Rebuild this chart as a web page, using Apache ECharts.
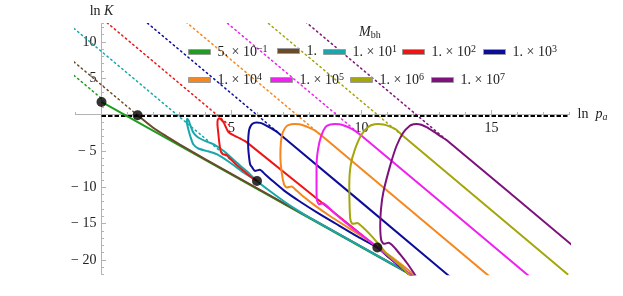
<!DOCTYPE html>
<html><head><meta charset="utf-8">
<script src="https://cdn.jsdelivr.net/npm/echarts@6/dist/echarts.min.js"></script>
<style>html,body{margin:0;padding:0;background:#fff}#c{width:623px;height:296px}</style>
</head><body><div id="c"></div>
<script>
// ---- data ----
const massMant = ['5. × 10', '1.', '1. × 10', '1. × 10', '1. × 10', '1. × 10', '1. × 10', '1. × 10', '1. × 10'];
const massExp  = ['−1', '', '1', '2', '3', '4', '5', '6', '7'];
const colors = ['#1f9d1f', '#6b4a2b', '#1aa7ab', '#f01515', '#0d0d9c', '#f6871f', '#f020f0', '#a5a50c', '#7d127d'];

const xTickLabels = [5, 10, 15];
const yTickLabels = [10, 5, -5, -10, -15, -20];

// dotted asymptotes (ln K = b - 3 ln p)
const dotGreen   = [[-1.2, 5.8], [0, 2.2]];
const dotBrown   = [[-1.2, 7.66], [1.39, -0.1]];
const dotCyan    = [[-1.2, 12.27], [5.0, -6.33]];
const dotRed     = [[-1.2, 16.87], [4.9, -1.43]];
const dotBlue    = [[-1.2, 21.48], [6.8, -2.52]];
const dotOrange  = [[0, 22.48], [8.4, -2.72]];
const dotMagenta = [[4, 15.09], [10, -2.91]];
const dotOlive   = [[6, 13.8], [11.6, -3.0]];
const dotPurple  = [[7, 15.3], [13.28, -3.54]];

// solid curves
const solGreen = [[0, 1.73], [12.2, -22.67]];
const solBrown = [[1.39, -0.1], [2.0, -1.85], [2.5, -3.0], [3.0, -4.1], [3.5, -5.15], [4.0, -6.18], [12.2, -22.6]];
const solCyan = [[5.98, -9.14], [5.46, -7.98], [4.94, -6.61], [4.43, -5.46], [4.04, -5.0], [3.72, -4.68], [3.53, -4.09], [3.43, -3.17], [3.34, -2.02], [3.28, -1.0], [3.3, -0.6],
  [3.36, -0.9], [3.4, -1.33], [3.53, -2.48], [3.72, -3.17], [3.98, -3.63], [4.3, -4.09], [4.69, -5.0], [5.2, -6.61], [5.6, -7.85], [5.98, -9.14],
  [6.5, -10.6], [7.0, -11.9], [7.5, -13.1], [8.0, -14.2], [12.2, -22.6]];
const solRed = [[5.98, -9.14], [5.75, -8.6], [5.5, -7.85], [5.2, -6.95], [4.95, -6.1], [4.8, -5.55], [4.66, -5.45], [4.58, -5.0], [4.53, -3.85], [4.49, -2.48], [4.46, -1.33], [4.47, -0.74], [4.53, -0.5],
  [4.6, -0.7], [4.7, -1.1], [4.79, -1.79], [4.88, -2.4], [5.07, -2.85], [5.33, -3.3], [5.58, -3.8], [10.61, -18.3], [11.0, -19.5], [11.4, -20.7], [11.8, -21.9], [12.1, -22.8]];
const solBlue = [[12.1, -22.8], [11.8, -21.9], [11.4, -20.7], [11.0, -19.5], [10.61, -18.3], [9.8, -16.7], [9.0, -15.0], [8.3, -13.5], [7.6, -11.9], [7.0, -10.4], [6.6, -9.2], [6.29, -8.21], [6.09, -7.62], [5.9, -7.76], [5.8, -7.3],
  [5.72, -6.9], [5.67, -5.7], [5.64, -4.2], [5.65, -3.0], [5.68, -2.1], [5.77, -1.4], [5.87, -1.15], [5.97, -1.1], [6.1, -1.15], [6.25, -1.35], [6.48, -1.8], [6.79, -2.5], [13.4, -22.32]];
const solOrange = [[12.1, -22.3], [11.8, -21.4], [11.3, -20.0], [10.8, -18.7], [10.2, -17.2], [9.5, -15.6], [8.8, -14.0], [8.2, -12.5], [7.8, -11.4], [7.51, -10.5], [7.31, -9.91], [7.12, -10.05], [7.02, -9.59],
  [6.93, -7.98], [6.88, -5.7], [6.9, -3.85], [6.97, -2.48], [7.12, -1.6], [7.3, -1.35], [7.44, -1.3], [7.6, -1.35], [7.8, -1.55], [8.0, -1.85], [8.2, -2.2], [8.45, -2.87], [14.95, -22.37]];
const solMagenta = [[11.95, -22.3], [11.5, -20.9], [11.0, -19.4], [10.45, -17.8], [9.9, -16.3], [9.4, -14.9], [9.0, -13.7], [8.73, -12.79], [8.53, -12.2], [8.36, -12.34], [8.28, -11.7], [8.27, -9.82],
  [8.27, -7.07], [8.33, -4.77], [8.45, -2.94], [8.62, -1.7], [8.8, -1.38], [8.98, -1.3], [9.15, -1.35], [9.35, -1.55], [9.55, -1.85], [9.75, -2.25], [10.0, -2.91], [16.45, -22.26]];
const solOlive = [[11.9, -22.3], [11.74, -21.74], [11.5, -20.8], [11.2, -19.9], [10.9, -18.9], [10.6, -17.6], [10.3, -16.4], [10.03, -15.45], [9.84, -14.92], [9.66, -15.05], [9.58, -14.6], [9.55, -13.5],
  [9.53, -9.82], [9.58, -7.07], [9.75, -4.77], [10.01, -2.71], [10.3, -1.6], [10.5, -1.35], [10.65, -1.3], [10.85, -1.38], [11.05, -1.6], [11.3, -2.0], [11.6, -2.95], [17.95, -22.05]];
const solPurple = [[12.1, -22.3], [12.0, -21.74], [11.74, -20.4], [11.48, -19.22], [11.24, -18.2], [11.04, -17.66], [10.86, -17.8], [10.76, -17.3], [10.72, -15.3], [10.75, -13.0], [10.84, -10.7], [11.1, -7.07],
  [11.35, -4.3], [11.61, -2.48], [11.86, -1.55], [12.0, -1.35], [12.12, -1.3], [12.3, -1.42], [12.5, -1.75], [12.75, -2.3], [13.02, -2.94], [13.28, -3.55], [18.1, -17.99]];

const blackDots = [[0, 1.73], [1.39, -0.1], [5.98, -9.14], [10.61, -18.3]];
const dashedLine = [[0, -0.2], [18, -0.2]];

// ---- layout (pixels) ----
const X0 = 101.5, PX_X = 26;      // px of ln p = 0, px per unit
const Y0 = 114.5, PX_Y = 7.267;   // px of ln K = 0, px per unit
const xMin = -1, xMax = 18, yMin = -22, yMax = 12.5;
const gL = X0 + xMin * PX_X, gR = 623 - (X0 + xMax * PX_X);
const gT = Y0 - yMax * PX_Y, gB = 296 - (Y0 - yMin * PX_Y);

const dotted = [dotGreen, dotBrown, dotCyan, dotRed, dotBlue, dotOrange, dotMagenta, dotOlive, dotPurple];
const solid = [solGreen, solBrown, solCyan, solRed, solBlue, solOrange, solMagenta, solOlive, solPurple];
const names = massMant.map((m, i) => 'M' + i);
const serif = '"Liberation Serif", "DejaVu Serif", serif';
const axisGray = '#b3b3b3';
const txt = '#222';

const series = [];
dotted.forEach((d, i) => series.push({
  type: 'line', data: d, showSymbol: false, silent: true, z: 2,
  lineStyle: { color: colors[i], width: 1.5, type: [1.4, 3.4], cap: 'round' }
}));
series.push({ type: 'line', data: dashedLine, showSymbol: false, silent: true, z: 3,
  lineStyle: { color: '#000', width: 2, type: [4.5, 2] } });
solid.forEach((d, i) => series.push({
  name: names[i], type: 'line', data: d, showSymbol: false, smooth: 0.2, z: 4 + i * 0.01,
  color: colors[i], lineStyle: { color: colors[i], width: 2 }
}));
series.push({ type: 'scatter', data: blackDots, symbolSize: 10, z: 10, itemStyle: { color: '#000' } });

const legendPos = [[188, 44], [277, 44], [323, 44], [402, 44], [483, 44], [188, 72], [270, 72], [350, 72], [431, 72]];
const legends = names.map((n, i) => ({
  data: [n], left: legendPos[i][0], top: legendPos[i][1], padding: 0,
  icon: 'rect', itemWidth: 22, itemHeight: 5, selectedMode: false,
  itemStyle: { borderColor: '#9a9a9a', borderWidth: 1 },
  formatter: () => massExp[i] ? '{b|' + massMant[i] + '}{s|' + massExp[i] + '}' : '{b|' + massMant[i] + '}',
  textStyle: { padding: [0, 0, 0, 2], rich: {
    b: { fontFamily: serif, fontSize: 14, color: txt, lineHeight: 16 },
    s: { fontFamily: serif, fontSize: 10, color: txt, lineHeight: 10, verticalAlign: 'top' }
  } }
}));

const hidden = { show: false };
const option = {
  animation: false,
  backgroundColor: '#fff',
  title: {
    text: '{m|M}{s|bh}', left: 359, top: 24, padding: 0,
    textStyle: { fontWeight: 'normal', rich: {
      m: { fontFamily: serif, fontStyle: 'italic', fontWeight: 'normal', fontSize: 14, color: txt, lineHeight: 16 },
      s: { fontFamily: serif, fontWeight: 'normal', fontSize: 10, color: txt, lineHeight: 16, padding: [6, 0, 0, 0] }
    } }
  },
  legend: legends,
  grid: [
    { left: gL, right: gR, top: gT, bottom: gB, containLabel: false, outerBoundsMode: 'none' },
    { left: X0, right: gR, top: gT, bottom: gB, containLabel: false, outerBoundsMode: 'none' },
    { left: gL, right: gR, top: gT, bottom: 296 - Y0, containLabel: false, outerBoundsMode: 'none' },
    { left: X0, right: gR, top: Y0 - 10 * PX_Y, bottom: 296 - (Y0 + 20 * PX_Y), containLabel: false, outerBoundsMode: 'none' },
    { left: X0, right: 623 - (X0 + 15 * PX_X), top: gT, bottom: 296 - Y0, containLabel: false, outerBoundsMode: 'none' }
  ],
  xAxis: [
    { gridIndex: 0, type: 'value', min: xMin, max: xMax, show: false },
    { gridIndex: 1, type: 'value', min: 0, max: xMax, show: false },
    { gridIndex: 2, type: 'value', min: xMin, max: xMax, interval: 1, position: 'bottom',
      name: '{n|ln  }{i|p}{s|a}', nameLocation: 'end', nameGap: 8,
      nameTextStyle: { rich: {
        n: { fontFamily: serif, fontSize: 14, color: txt },
        i: { fontFamily: serif, fontStyle: 'italic', fontSize: 14, color: txt },
        s: { fontFamily: serif, fontStyle: 'italic', fontSize: 10, color: txt, padding: [6, 0, 0, 0] }
      } },
      splitLine: hidden,
      axisLine: { onZero: false, lineStyle: { color: axisGray, width: 1 } },
      axisTick: { inside: true, length: 2.5, lineStyle: { color: axisGray } },
      axisLabel: { show: false } },
    { gridIndex: 3, type: 'value', min: 0, max: 1, show: false },
    { gridIndex: 4, type: 'value', min: 0, max: 15, interval: 5, position: 'bottom',
      splitLine: hidden,
      axisLine: { show: false, onZero: false },
      axisTick: { inside: true, length: 4.5, lineStyle: { color: axisGray } },
      axisLabel: { margin: 7, fontFamily: serif, fontSize: 14, color: txt,
        formatter: v => xTickLabels.indexOf(v) >= 0 ? String(v) : '' } }
  ],
  yAxis: [
    { gridIndex: 0, type: 'value', min: yMin, max: yMax, show: false },
    { gridIndex: 1, type: 'value', min: yMin, max: yMax, interval: 1, position: 'left',
      name: '{n|ln }{i|K}', nameLocation: 'end', nameGap: 5,
      nameTextStyle: { rich: {
        n: { fontFamily: serif, fontSize: 14, color: txt },
        i: { fontFamily: serif, fontStyle: 'italic', fontSize: 14, color: txt }
      } },
      splitLine: hidden,
      axisLine: { onZero: false, lineStyle: { color: axisGray, width: 1 } },
      axisTick: { inside: true, length: 2.5, lineStyle: { color: axisGray } },
      axisLabel: { show: false } },
    { gridIndex: 2, type: 'value', min: 0, max: 1, show: false },
    { gridIndex: 3, type: 'value', min: -20, max: 10, interval: 5, position: 'left',
      splitLine: hidden,
      axisLine: { show: false, onZero: false },
      axisTick: { inside: true, length: 4.5, lineStyle: { color: axisGray } },
      axisLabel: { margin: 5, fontFamily: serif, fontSize: 14, color: txt,
        formatter: v => yTickLabels.indexOf(v) >= 0 ? (v < 0 ? '− ' + (-v) : String(v)) : '' } },
    { gridIndex: 4, type: 'value', min: 0, max: 1, show: false }
  ],
  series: series
};
const chart = echarts.init(document.getElementById('c'), null, { renderer: 'canvas' });
chart.setOption(option);
</script></body></html>
